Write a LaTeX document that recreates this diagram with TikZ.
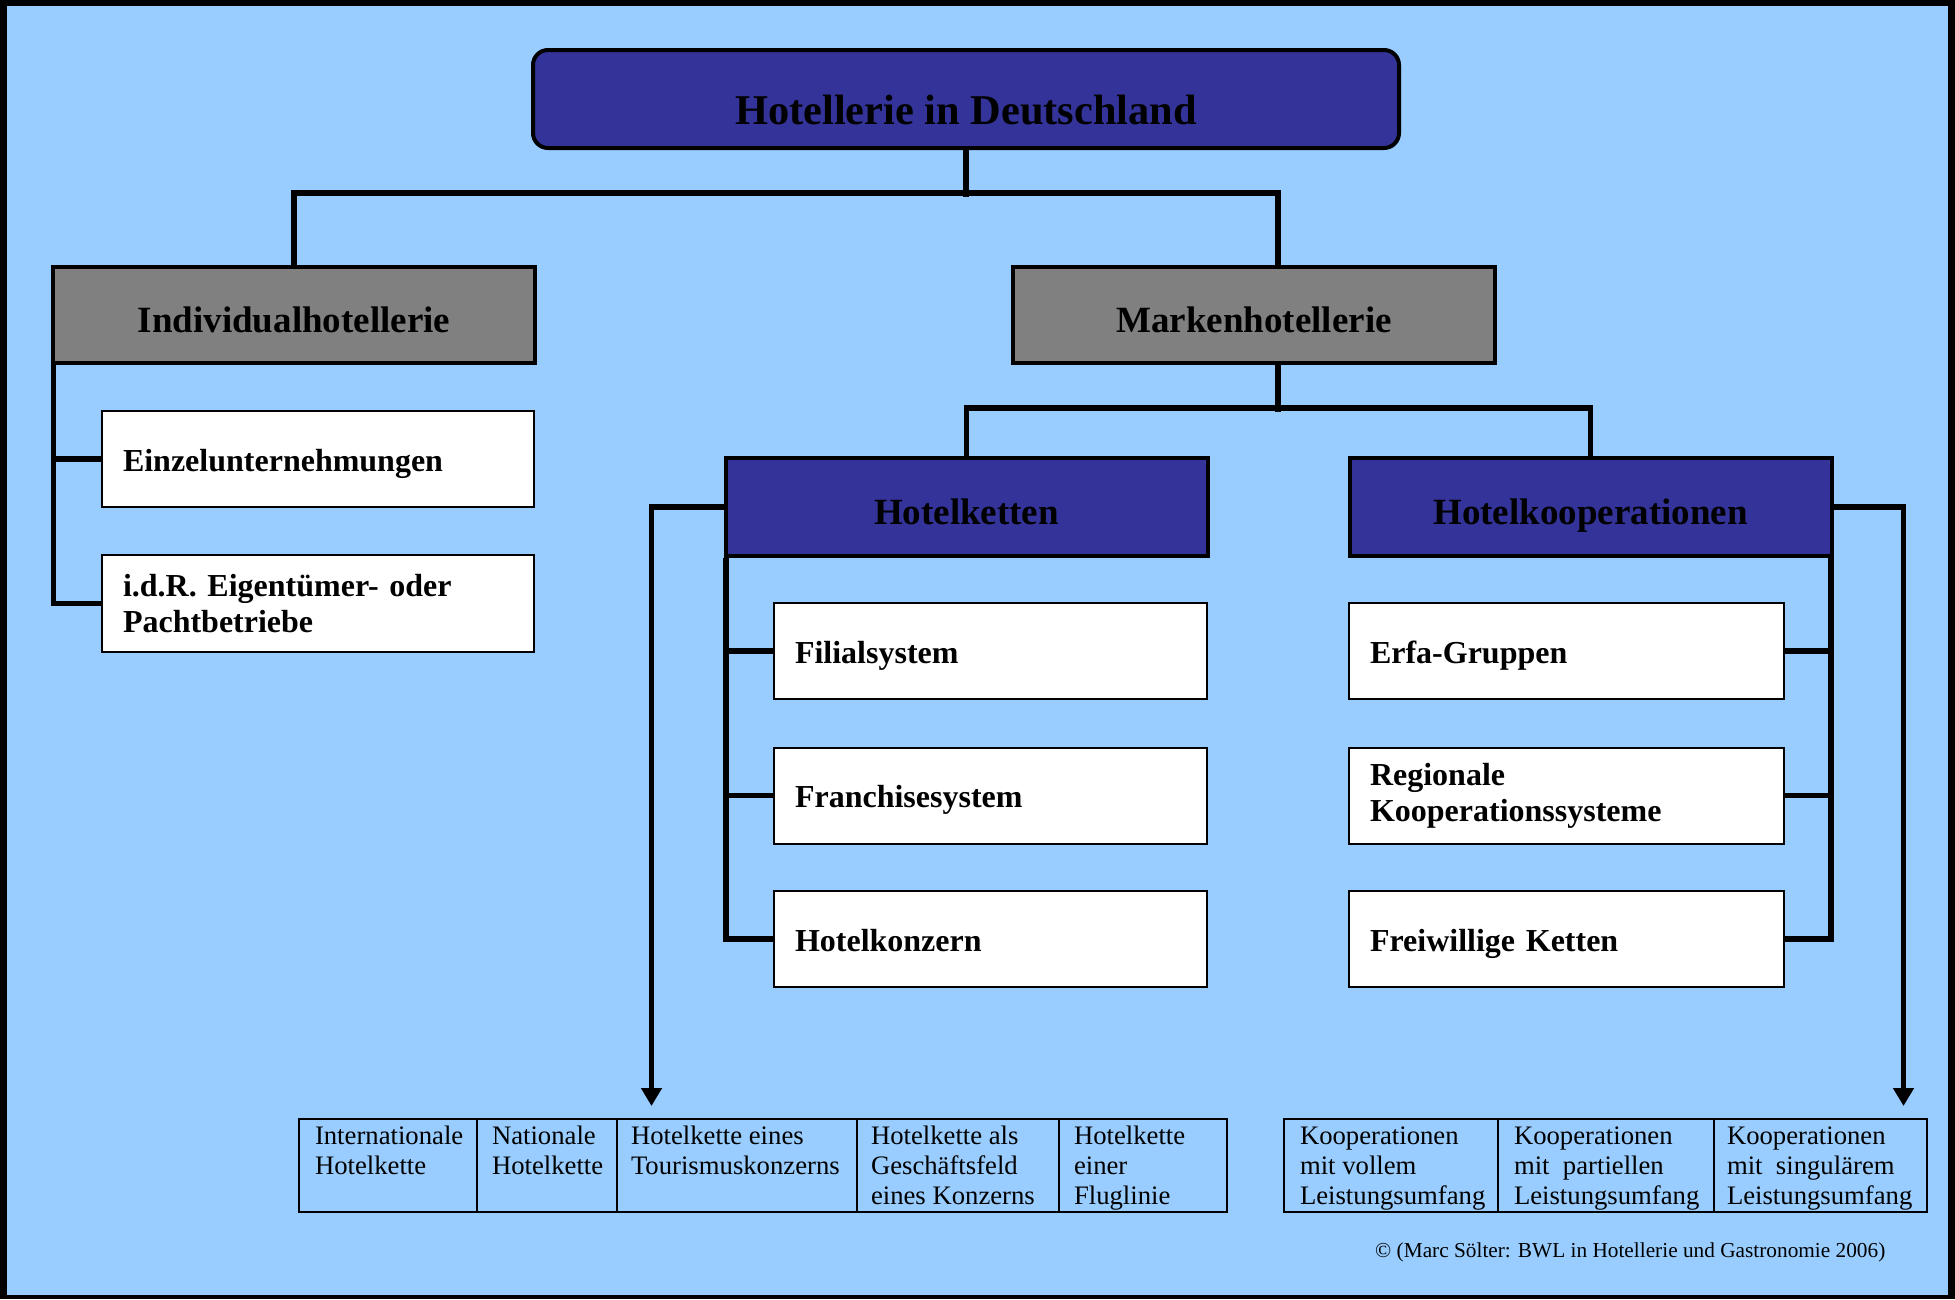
\documentclass[tikz,border=0pt]{standalone}
\usepackage{fontspec}
\setmainfont{Liberation Serif}
\usetikzlibrary{arrows.meta,calc}
\definecolor{skyback}{HTML}{99CCFF}
\definecolor{navyfill}{HTML}{333399}
\definecolor{greyfill}{HTML}{808080}
% table cell: width, left padding, lines of text
\newcommand{\tabcell}[3]{\parbox[t][93pt][t]{#1pt}{\leftskip=#2pt\rightskip=0pt plus 1fil\parindent=0pt\rule{0pt}{25pt}#3}}
\tikzset{
  conn/.style={line width=5.5pt, line join=miter},
  titlebox/.style={draw=black, line width=4pt, fill=navyfill, rounded corners=15pt,
    minimum width=866pt, minimum height=98pt, inner sep=0pt,
    text height=50pt, text depth=0pt, font=\fontsize{42.4}{46}\selectfont\bfseries},
  headbox/.style={draw=black, line width=4pt, fill=navyfill, minimum width=482pt,
    minimum height=98pt, inner sep=0pt, text height=35pt, text depth=0pt,
    font=\fontsize{37}{40}\selectfont\bfseries},
  greybox/.style={headbox, fill=greyfill, minimum height=96pt},
  itembox/.style={draw=black, line width=2pt, fill=white, minimum height=96pt,
    inner xsep=21pt, inner ysep=0pt, align=left, font=\fontsize{32}{36}\selectfont\bfseries},
  oneline/.style={text height=24pt, text depth=0pt},
  cellbox/.style={draw=black, line width=2pt, anchor=north west, inner sep=0pt,
    font=\fontsize{26.7}{30}\selectfont},
  tipdown/.style={-{Triangle[width=20pt,length=18pt]}, shorten >=12pt}
}
\begin{document}
\begin{tikzpicture}[x=1pt,y=-1pt]
% frame and background
\useasboundingbox (0,0) rectangle (1955,1299);
\fill[black] (0,0) rectangle (1955,1299);
\fill[skyback] (7,6) rectangle (1948,1295);

% top level
\node[titlebox] (top) at (966,99) {Hotellerie in Deutschland};

% second level
\node[greybox] (indiv) at (294,315) {Individualhotellerie};
\node[greybox] (marken) at (1254,315) {Markenhotellerie};

% third level
\node[headbox] (ketten) at (966.5,507) {Hotelketten};
\node[headbox] (koop) at (1590.5,507) {Hotelkooperationen};

% individual hotels
\node[itembox, oneline, text width=390pt] (e1) at (318,459) {Einzelunternehmungen};
\node[itembox, text width=390pt, minimum height=97pt] (e2) at (318,603.5) {i.d.R. Eigentümer- oder\\Pachtbetriebe};

% hotel chains
\node[itembox, oneline, text width=391pt] (f1) at (990.5,651) {Filialsystem};
\node[itembox, oneline, text width=391pt] (f2) at (990.5,795.5) {Franchisesystem};
\node[itembox, oneline, text width=391pt] (f3) at (990.5,939) {Hotelkonzern};

% hotel cooperations
\node[itembox, oneline, text width=393pt] (k1) at (1566.5,651) {Erfa-Gruppen};
\node[itembox, text width=393pt] (k2) at (1566.5,795.5) {Regionale\\Kooperationssysteme};
\node[itembox, oneline, text width=393pt] (k3) at (1566.5,939) {Freiwillige Ketten};

% chain types
\node[cellbox] (lt1) at (298,1118) {\tabcell{178}{16}{Internationale\\Hotelkette}};
\node[cellbox] (lt2) at (476,1118) {\tabcell{140}{15}{Nationale\\Hotelkette}};
\node[cellbox] (lt3) at (616,1118) {\tabcell{240}{14}{Hotelkette eines\\Tourismuskonzerns}};
\node[cellbox] (lt4) at (856,1118) {\tabcell{202}{14}{Hotelkette als\\Geschäftsfeld\\eines Konzerns}};
\node[cellbox] (lt5) at (1058,1118) {\tabcell{168}{15}{Hotelkette\\einer\\Fluglinie}};

% cooperation types
\node[cellbox] (rt1) at (1283,1118) {\tabcell{214}{16}{Kooperationen\\mit vollem\\Leistungsumfang}};
\node[cellbox] (rt2) at (1497,1118) {\tabcell{216}{16}{Kooperationen\\mit\ \ partiellen\\Leistungsumfang}};
\node[cellbox] (rt3) at (1713,1118) {\tabcell{213}{13}{Kooperationen\\mit\ \ singulärem\\Leistungsumfang}};

% source
\node[anchor=west, inner sep=0pt, font=\fontsize{21.3}{24}\selectfont] (src) at (1375,1252)
  {© (Marc Sölter: BWL in Hotellerie und Gastronomie 2006)};

% tree connectors
\draw[conn] (top.south) -- ++(0,47);
\draw[conn] (indiv.north) -- ++(0,-72) -| ([xshift=24pt]marken.north);
\draw[conn] ([xshift=24pt]marken.south) -- ++(0,47);
\draw[conn] (ketten.north) -- ++(0,-48) -| (koop.north);

% brackets, running just inside the parent box edge
\coordinate (ib) at ([xshift=2.5pt]indiv.south west);
\coordinate (kb) at ([xshift=2.5pt]ketten.south west);
\coordinate (cb) at ([xshift=-2.5pt]koop.south east);
\draw[conn] (ib) -- (ib |- e2.west) -- (e2.west);
\draw[conn] (ib |- e1.west) -- (e1.west);
\draw[conn] (kb) -- (kb |- f3.west) -- (f3.west);
\draw[conn] (kb |- f1.west) -- (f1.west);
\draw[conn] (kb |- f2.west) -- (f2.west);
\draw[conn] (cb) -- (cb |- k3.east) -- (k3.east);
\draw[conn] (cb |- k1.east) -- (k1.east);
\draw[conn] (cb |- k2.east) -- (k2.east);

% arrows to the type tables
\coordinate (ldrop) at ($(ketten.west)+(-72,0)$);
\coordinate (rdrop) at ($(koop.east)+(70,0)$);
\draw[conn, tipdown] (ketten.west) -- (ldrop) -- (ldrop |- lt3.north);
\draw[conn, tipdown] (koop.east) -- (rdrop) -- (rdrop |- rt3.north);
\end{tikzpicture}
\end{document}
